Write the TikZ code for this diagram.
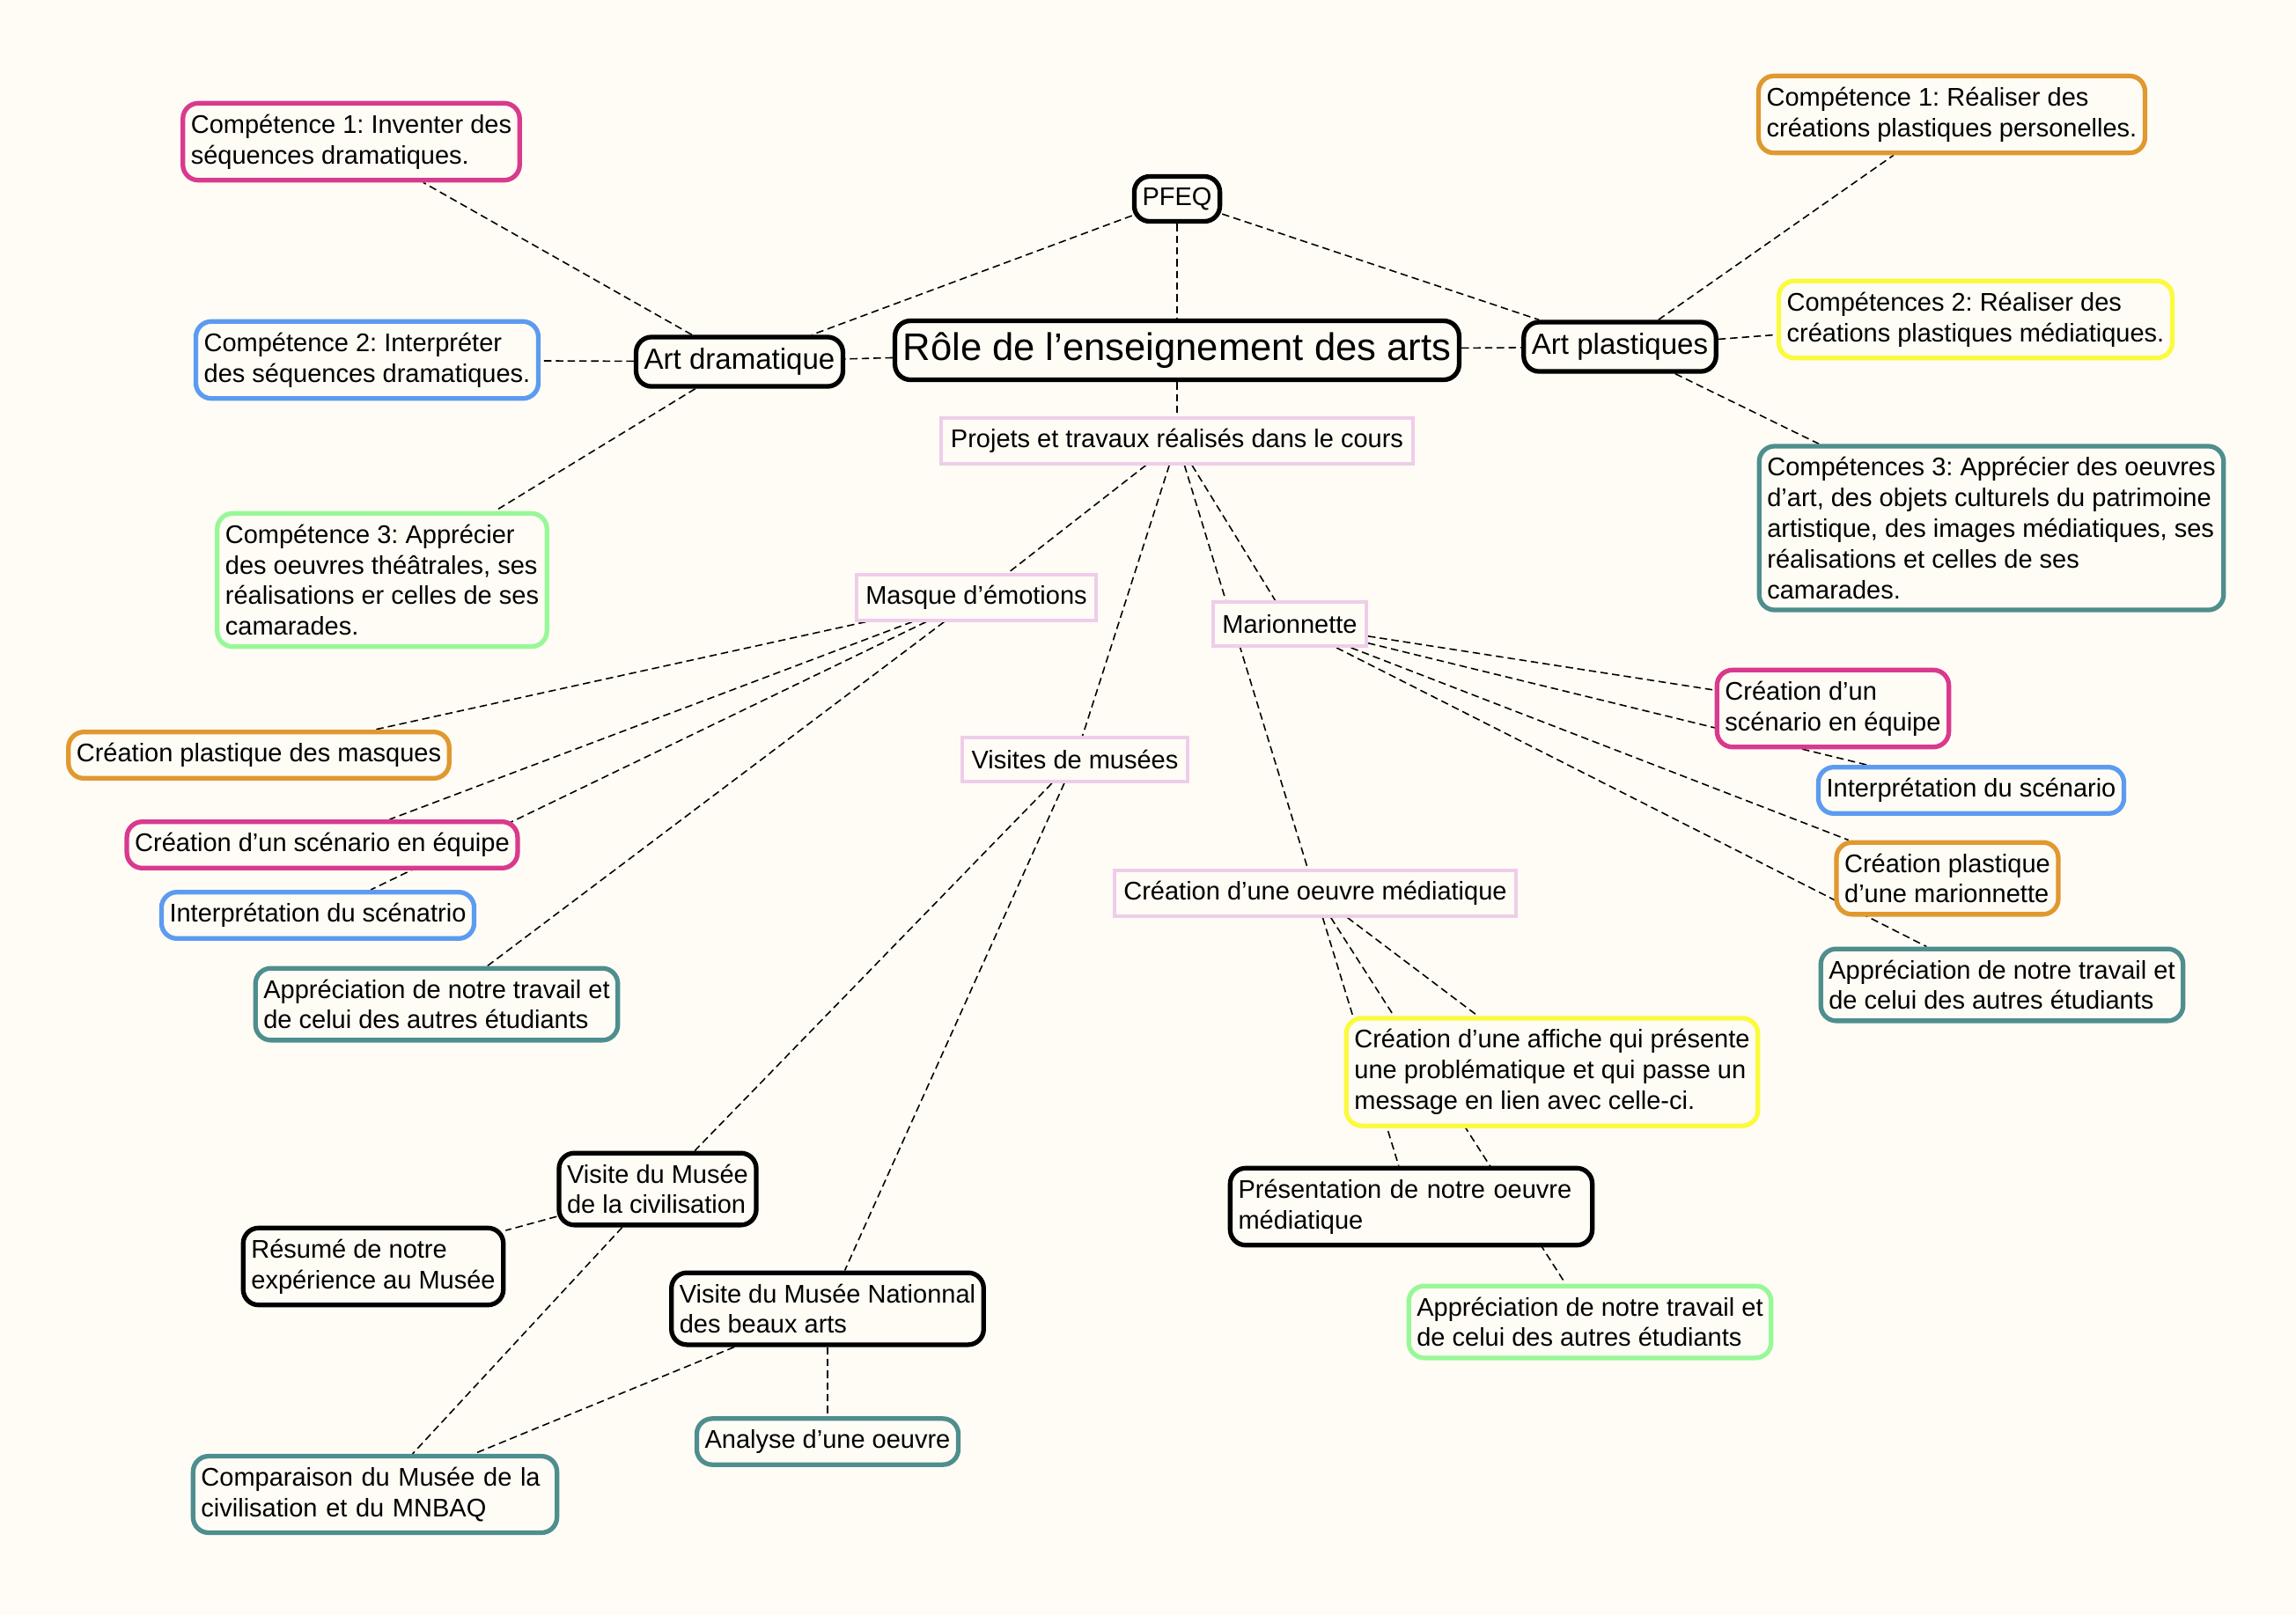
\documentclass[tikz,border=0pt]{standalone}
\usepackage{fontspec}
\setmainfont{Liberation Sans}
\usetikzlibrary{positioning,backgrounds}
\frenchspacing

\definecolor{paper}{HTML}{FEFCF5}
\definecolor{cPink}{HTML}{D93A8D}
\definecolor{cBlue}{HTML}{5C9BF0}
\definecolor{cGreen}{HTML}{98F898}
\definecolor{cOrange}{HTML}{E0982F}
\definecolor{cYellow}{HTML}{FCFA3C}
\definecolor{cTeal}{HTML}{4F8E8E}
\definecolor{cLilac}{HTML}{EFCDE9}

\tikzset{
  every node/.style={font=\fontsize{8.25}{9.9}\selectfont},
  box/.style={draw=#1, line width=1.5pt, rounded corners=5pt, fill=paper, align=left,
    inner xsep=2.6pt, inner ysep=3.6pt, minimum height=0.5cm},
  box/.default=black,
  branch/.style={box, font=\fontsize{9.4}{11}\selectfont},
  topic/.style={draw=cLilac, line width=1.1pt, fill=paper, inner xsep=3pt, inner ysep=3.4pt, minimum height=0.5cm},
  conn/.style={line width=0.45pt, dash pattern=on 2.4pt off 1.4pt},
}

\begin{document}
\begin{tikzpicture}
      \useasboundingbox (0,0) rectangle (26.08,-18.35);

      % centre
      \node[box, font=\fontsize{12.4}{14}\selectfont, minimum height=0.67cm] (Role) at (13.37,-3.98) {Rôle de l’enseignement des arts};
      \node[box, on grid, above=1.72cm of Role] (Pfeq) {PFEQ};
      \node[branch, on grid, below left=0.13cm and 4.97cm of Role] (ArtDram) {Art dramatique};
      \node[branch, on grid, above right=0.04cm and 5.03cm of Role] (ArtPlast) {Art plastiques};
      \node[topic, on grid, below=1.03cm of Role] (Projets) {Projets et travaux réalisés dans le cours};

      % art dramatique
      \node[box=cPink, on grid, above left=2.50cm and 4.41cm of ArtDram] (DramComp1) {Compétence 1: Inventer des\\séquences dramatiques.};
      \node[box=cBlue, on grid, above left=0.02cm and 4.23cm of ArtDram] (DramComp2) {Compétence 2: Interpréter\\des séquences dramatiques.};
      \node[box=cGreen, on grid, below left=2.48cm and 4.06cm of ArtDram] (DramComp3) {Compétence 3: Apprécier\\des oeuvres théâtrales, ses\\réalisations er celles de ses\\camarades.};

      % art plastiques
      \node[box=cOrange, on grid, above right=2.64cm and 3.77cm of ArtPlast] (PlastComp1) {Compétence 1: Réaliser des\\créations plastiques personelles.};
      \node[box=cYellow, on grid, above right=0.31cm and 4.04cm of ArtPlast] (PlastComp2) {Compétences 2: Réaliser des\\créations plastiques médiatiques.};
      \node[box=cTeal, on grid, below right=2.06cm and 4.22cm of ArtPlast] (PlastComp3) {Compétences 3: Apprécier des oeuvres\\d’art, des objets culturels du patrimoine\\artistique, des images médiatiques, ses\\réalisations et celles de ses\\camarades.};

      % projets
      \node[topic, on grid, below left=1.78cm and 2.28cm of Projets] (Masque) {Masque d’émotions};
      \node[topic, on grid, below right=2.08cm and 1.28cm of Projets] (Mario) {Marionnette};
      \node[topic, on grid, below left=3.62cm and 1.16cm of Projets] (Visites) {Visites de musées};
      \node[topic, on grid, below right=5.14cm and 1.57cm of Projets] (Media) {Création d’une oeuvre médiatique};

      % masque
      \node[box=cOrange, on grid, below left=1.79cm and 8.15cm of Masque] (MasqueCrea) {Création plastique des masques};
      \node[box=cPink, on grid, below left=2.81cm and 7.43cm of Masque] (MasqueScen) {Création d’un scénario en équipe};
      \node[box=cBlue, on grid, below left=0.80cm and 0.05cm of MasqueScen] (MasqueInterp) {Interprétation du scénatrio};
      \node[box=cTeal, on grid, below left=4.62cm and 6.13cm of Masque] (MasqueAppr) {Appréciation de notre travail et\\de celui des autres étudiants};

      % marionnette
      \node[box=cPink, on grid, below right=0.96cm and 6.17cm of Mario] (MarioScen) {Création d’un\\scénario en équipe};
      \node[box=cBlue, on grid, below right=0.93cm and 1.57cm of MarioScen] (MarioInterp) {Interprétation du scénario};
      \node[box=cOrange, on grid, below right=2.89cm and 7.47cm of Mario] (MarioCrea) {Création plastique\\d’une marionnette};
      \node[box=cTeal, on grid, below right=1.21cm and 0.62cm of MarioCrea] (MarioAppr) {Appréciation de notre travail et\\de celui des autres étudiants};

      % oeuvre mediatique
      \node[box=cYellow, on grid, below right=2.03cm and 2.69cm of Media] (Affiche) {Création d’une affiche qui présente\\une problématique et qui passe un\\message en lien avec celle-ci.};
      \node[box, on grid, below right=3.56cm and 1.09cm of Media, text width=3.93cm] (MediaPres) {Présentation de notre oeuvre\\médiatique};
      \node[box=cGreen, on grid, below right=1.31cm and 2.03cm of MediaPres] (MediaAppr) {Appréciation de notre travail et\\de celui des autres étudiants};

      % musees
      \node[box, on grid, below left=4.88cm and 4.74cm of Visites] (MuseeCiv) {Visite du Musée\\de la civilisation};
      \node[box, on grid, below left=0.88cm and 3.23cm of MuseeCiv] (Resume) {Résumé de notre\\expérience au Musée};
      \node[box, on grid, below left=6.24cm and 2.81cm of Visites] (Mnba) {Visite du Musée Nationnal\\des beaux arts};
      \node[box=cTeal, on grid, below=1.51cm of Mnba] (Analyse) {Analyse d’une oeuvre};
      \node[box=cTeal, on grid, below left=3.47cm and 3.21cm of MuseeCiv, text width=3.95cm] (Compar) {Comparaison du Musée de la\\civilisation et du MNBAQ};

      \begin{scope}[on background layer]
      \fill[paper] (0,0) rectangle (26.08,-18.35);
      \draw[conn] (Pfeq) -- (Role);
      \draw[conn] (Pfeq) -- (ArtDram);
      \draw[conn] (Pfeq) -- (ArtPlast);
      \draw[conn] (Role) -- (ArtDram);
      \draw[conn] (Role) -- (ArtPlast);
      \draw[conn] (Role) -- (Projets);
      \draw[conn] (ArtDram) -- (DramComp1);
      \draw[conn] (ArtDram) -- (DramComp2);
      \draw[conn] (ArtDram) -- (DramComp3);
      \draw[conn] (ArtPlast) -- (PlastComp1);
      \draw[conn] (ArtPlast) -- (PlastComp2);
      \draw[conn] (ArtPlast) -- (PlastComp3);
      \draw[conn] (Projets) -- (Masque);
      \draw[conn] (Projets) -- (Mario);
      \draw[conn] (Projets) -- (Visites);
      \draw[conn] (Projets) -- (Media);
      \draw[conn] (Masque) -- (MasqueCrea);
      \draw[conn] (Masque) -- (MasqueScen);
      \draw[conn] (Masque) -- (MasqueInterp);
      \draw[conn] (Masque) -- (MasqueAppr);
      \draw[conn] (Mario) -- (MarioScen);
      \draw[conn] (Mario) -- (MarioInterp);
      \draw[conn] (Mario) -- (MarioCrea);
      \draw[conn] (Mario) -- (MarioAppr);
      \draw[conn] (Media) -- (Affiche);
      \draw[conn] (Media) -- (MediaPres);
      \draw[conn] (Media) -- (MediaAppr);
      \draw[conn] (Visites) -- (MuseeCiv);
      \draw[conn] (Visites) -- (Mnba);
      \draw[conn] (MuseeCiv) -- (Resume);
      \draw[conn] (MuseeCiv) -- (Compar);
      \draw[conn] (Mnba) -- (Compar);
      \draw[conn] (Mnba) -- (Analyse);
      \end{scope}
\end{tikzpicture}
\end{document}
